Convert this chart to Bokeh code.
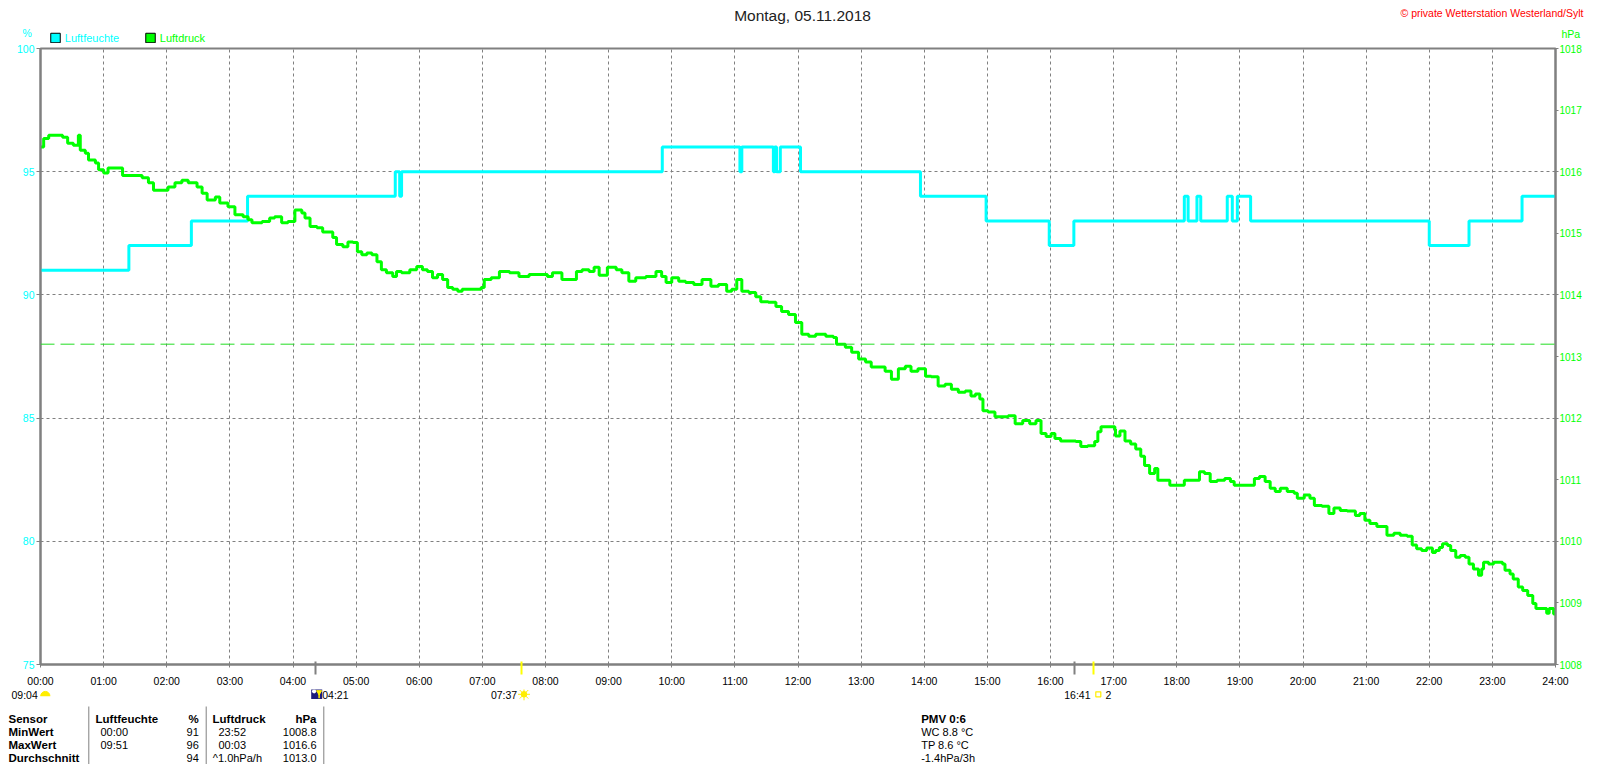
import math
from bokeh.plotting import figure
from bokeh.layouts import column
from bokeh.models import Range1d, LinearAxis, FixedTicker, Span
from bokeh.core.properties import value
from bokeh.embed import file_html
from bokeh.resources import INLINE

# ---------------- data ----------------
hour_ticks = list(range(25))
hour_labels = [f"{h:02d}:00" for h in hour_ticks]
hum_ticks = [75, 80, 85, 90, 95, 100]
hpa_ticks = list(range(1008, 1019))

# Luftfeuchte (%) step changes: time in hours, value from that time on
hum_t = [0.00, 1.40, 2.39, 3.28, 5.62, 5.69, 5.72, 9.85, 11.08, 11.11, 11.61, 11.63,
         11.66, 11.72, 12.04, 13.94, 14.98, 15.98, 16.37, 18.12, 18.18, 18.32, 18.38,
         18.80, 18.88, 18.96, 19.17, 22.00, 22.63, 23.47, 24.00]
hum_v = [91, 92, 93, 94, 95, 94, 95, 96, 95, 96, 95, 96,
         95, 96, 95, 94, 93, 92, 93, 94, 93, 94, 93,
         94, 93, 94, 93, 92, 93, 94, 94]

# Luftdruck (hPa)
hpa_t = [0.00, 0.05, 0.13, 0.24, 0.35, 0.43, 0.52, 0.60, 0.63, 0.71, 0.76, 0.87, 0.92, 1.00,
         1.07, 1.19, 1.30, 1.50, 1.61, 1.71, 1.79, 1.93, 2.02, 2.13, 2.24, 2.34, 2.48, 2.56,
         2.64, 2.77, 2.84, 2.97, 3.08, 3.21, 3.29, 3.35, 3.51, 3.63, 3.71, 3.82, 3.92, 4.03,
         4.14, 4.19, 4.27, 4.38, 4.47, 4.58, 4.63, 4.69, 4.79, 4.87, 4.95, 5.02, 5.09, 5.17,
         5.25, 5.33, 5.40, 5.48, 5.58, 5.64, 5.72, 5.85, 5.96, 6.05, 6.13, 6.21, 6.29, 6.37,
         6.45, 6.53, 6.61, 6.68, 6.84, 6.98, 7.03, 7.14, 7.27, 7.43, 7.58, 7.74, 7.90, 8.03,
         8.11, 8.26, 8.37, 8.49, 8.58, 8.69, 8.77, 8.85, 8.98, 9.12, 9.21, 9.32, 9.43, 9.59,
         9.75, 9.84, 9.91, 10.00, 10.11, 10.22, 10.35, 10.48, 10.62, 10.74, 10.87, 10.95,
         11.03, 11.11, 11.22, 11.33, 11.41, 11.53, 11.65, 11.74, 11.85, 11.96, 12.06, 12.17,
         12.28, 12.44, 12.56, 12.61, 12.75, 12.85, 12.96, 13.07, 13.16, 13.27, 13.38, 13.48,
         13.59, 13.70, 13.79, 13.90, 14.02, 14.11, 14.22, 14.33, 14.43, 14.54, 14.65, 14.74,
         14.81, 14.88, 14.93, 15.01, 15.12, 15.22, 15.33, 15.44, 15.56, 15.67, 15.77, 15.85,
         15.93, 16.01, 16.07, 16.16, 16.31, 16.40, 16.48, 16.59, 16.70, 16.75, 16.80, 16.91,
         17.02, 17.03, 17.10, 17.18, 17.27, 17.35, 17.43, 17.49, 17.57, 17.65, 17.70, 17.81,
         17.89, 18.06, 18.12, 18.28, 18.36, 18.44, 18.53, 18.64, 18.76, 18.85, 18.91, 19.12,
         19.23, 19.31, 19.40, 19.48, 19.56, 19.64, 19.75, 19.86, 19.91, 20.02, 20.11, 20.18,
         20.30, 20.41, 20.49, 20.59, 20.70, 20.83, 20.90, 20.98, 21.06, 21.17, 21.25, 21.33,
         21.44, 21.54, 21.65, 21.73, 21.80, 21.88, 21.96, 22.05, 22.10, 22.16, 22.21, 22.29,
         22.34, 22.42, 22.49, 22.57, 22.63, 22.70, 22.78, 22.83, 22.86, 22.94, 23.02, 23.09,
         23.16, 23.20, 23.28, 23.33, 23.41, 23.48, 23.56, 23.64, 23.69, 23.80, 23.86, 23.90,
         23.97, 24.00]
hpa_v = [1016.40, 1016.54, 1016.59, 1016.59, 1016.56, 1016.46, 1016.43, 1016.59, 1016.35, 1016.30,
         1016.19, 1016.14, 1016.03, 1015.98, 1016.06, 1016.06, 1015.94, 1015.94, 1015.90, 1015.82,
         1015.70, 1015.70, 1015.75, 1015.82, 1015.86, 1015.82, 1015.75, 1015.65, 1015.54, 1015.59,
         1015.49, 1015.43, 1015.30, 1015.27, 1015.22, 1015.17, 1015.19, 1015.25, 1015.27, 1015.17,
         1015.19, 1015.38, 1015.33, 1015.25, 1015.11, 1015.09, 1015.02, 1015.02, 1014.93, 1014.82,
         1014.78, 1014.86, 1014.85, 1014.70, 1014.65, 1014.68, 1014.65, 1014.54, 1014.41, 1014.36,
         1014.30, 1014.38, 1014.36, 1014.41, 1014.46, 1014.41, 1014.38, 1014.28, 1014.33, 1014.25,
         1014.12, 1014.09, 1014.06, 1014.09, 1014.09, 1014.12, 1014.25, 1014.28, 1014.38, 1014.36,
         1014.30, 1014.33, 1014.33, 1014.30, 1014.36, 1014.25, 1014.25, 1014.38, 1014.41, 1014.38,
         1014.45, 1014.32, 1014.45, 1014.41, 1014.36, 1014.22, 1014.28, 1014.30, 1014.38, 1014.30,
         1014.20, 1014.28, 1014.22, 1014.20, 1014.17, 1014.25, 1014.14, 1014.17, 1014.06, 1014.09,
         1014.25, 1014.06, 1014.04, 1013.97, 1013.89, 1013.88, 1013.81, 1013.73, 1013.68, 1013.55,
         1013.36, 1013.33, 1013.36, 1013.33, 1013.31, 1013.20, 1013.15, 1013.07, 1012.96, 1012.91,
         1012.83, 1012.83, 1012.76, 1012.63, 1012.80, 1012.84, 1012.76, 1012.80, 1012.68, 1012.67,
         1012.52, 1012.55, 1012.47, 1012.42, 1012.44, 1012.36, 1012.39, 1012.31, 1012.12, 1012.10,
         1012.02, 1012.02, 1012.04, 1011.91, 1011.96, 1011.91, 1011.96, 1011.75, 1011.70, 1011.75,
         1011.67, 1011.63, 1011.63, 1011.62, 1011.54, 1011.55, 1011.62, 1011.78, 1011.86, 1011.86,
         1011.82, 1011.71, 1011.79, 1011.63, 1011.58, 1011.50, 1011.38, 1011.23, 1011.10, 1011.18,
         1010.99, 1010.99, 1010.91, 1010.91, 1010.99, 1010.99, 1011.13, 1011.10, 1010.97, 1010.99,
         1011.02, 1010.97, 1010.91, 1010.91, 1011.02, 1011.05, 1010.97, 1010.86, 1010.81, 1010.86,
         1010.81, 1010.78, 1010.70, 1010.75, 1010.70, 1010.58, 1010.57, 1010.45, 1010.54, 1010.50,
         1010.49, 1010.42, 1010.45, 1010.34, 1010.29, 1010.24, 1010.24, 1010.10, 1010.13, 1010.10,
         1010.08, 1009.94, 1009.88, 1009.85, 1009.89, 1009.82, 1009.85, 1009.90, 1009.96, 1009.93,
         1009.85, 1009.74, 1009.77, 1009.74, 1009.63, 1009.55, 1009.45, 1009.55, 1009.66, 1009.63,
         1009.66, 1009.66, 1009.63, 1009.53, 1009.47, 1009.39, 1009.26, 1009.20, 1009.12, 1008.99,
         1008.91, 1008.91, 1008.83, 1008.91, 1008.82, 1008.85]

hum_ref_level = 88

# events on the time axis (hours): moon 04:21 / 16:23, sun 07:37 / 16:41
moon_event_times = [4.35, 16.383]
sun_event_times = [7.617, 16.683]

title_text = "Montag, 05.11.2018"
copyright_text = "\u00a9 private Wetterstation Westerland/Sylt"
legend_names = ["Luftfeuchte", "Luftdruck"]

table_rows = ["Sensor", "MinWert", "MaxWert", "Durchschnitt"]
hum_col_time = ["", "00:00", "09:51", ""]
hum_col_val = ["%", "91", "96", "94"]
hpa_col_time = ["", "23:52", "00:03", "^1.0hPa/h"]
hpa_col_val = ["hPa", "1008.8", "1016.6", "1013.0"]
pmv_lines = ["PMV 0:6", "WC 8.8 \u00b0C", "TP 8.6 \u00b0C", "-1.4hPa/3h"]

# ---------------- layout ----------------
W = 1584
HA, HB, HC = 43, 646, 75          # top strip, chart, bottom strip (sum 764)
FL, FR, FT, FB = 40, 27, 5, 22    # chart borders
FONT = "Liberation Sans"
CYAN = "#00ffff"
GREEN = "#00ff00"
GREY = "#808080"
YEL = "#ffee00"


def strip(height, y_top):
    f = figure(width=W, height=height, x_range=Range1d(0, W),
               y_range=Range1d(y_top + height, y_top),
               x_axis_type=None, y_axis_type=None, output_backend="svg",
               toolbar_location=None, min_border_left=0, min_border_right=0,
               min_border_top=0, min_border_bottom=0, frame_align=False)
    f.outline_line_color = None
    f.background_fill_color = "white"
    f.border_fill_color = "white"
    return f


def txt(f, xs, ys, texts, size="11px", color="black", align="left", bold=False, font=FONT):
    f.text(x=xs, y=ys, text=texts, text_font=value(font), text_font_size=value(size),
           text_color=color, text_align=align, text_baseline="middle",
           text_font_style="bold" if bold else "normal")


# ===== top strip =====
fa = strip(HA, 0)
txt(fa, [802], [15], [title_text], size="15.5px", color="#222222", align="center")
txt(fa, [1583], [12.7], [copyright_text], size="10.5px", color="#ff0000", align="right")
txt(fa, [26.7], [32.3], ["%"], size="10.5px", color=CYAN, align="center")
txt(fa, [1561], [33], ["hPa"], size="10.5px", color=GREEN)
fa.rect(x=[55, 150], y=[37.5, 37.5], width=9.5, height=9.5, fill_color=[CYAN, GREEN],
        line_color="black", line_width=1)
txt(fa, [64.3], [37.7], [legend_names[0]], color=CYAN)
txt(fa, [159.3], [37.7], [legend_names[1]], color=GREEN)

# ===== chart =====
p = figure(width=W, height=HB, x_range=Range1d(0, 24), y_range=Range1d(75, 100),
           output_backend="svg", toolbar_location=None, frame_align=False,
           min_border_left=FL, min_border_right=FR, min_border_top=FT, min_border_bottom=FB)
p.extra_y_ranges = {"hpa": Range1d(1008, 1018)}
p.background_fill_color = "white"
p.border_fill_color = "white"
p.outline_line_color = GREY
p.outline_line_width = 2

# axis next to the frame: moon event ticks (major) and hour ticks (minor), no labels
xa = p.xaxis[0]
xa.ticker = FixedTicker(ticks=moon_event_times, minor_ticks=hour_ticks)
xa.axis_line_color = GREY
xa.axis_line_width = 2
xa.major_tick_line_color = GREY
xa.major_tick_line_width = 2
xa.major_tick_out = 10
xa.major_tick_in = 3
xa.minor_tick_line_color = GREY
xa.minor_tick_out = 3
xa.minor_tick_in = 0
xa.major_label_text_font_size = "0px"
xa.major_label_standoff = 0
xa.major_label_overrides = {t: "" for t in moon_event_times}

# hour labels; sun event ticks drawn upward across the time axis
xb = LinearAxis(ticker=FixedTicker(ticks=hour_ticks, minor_ticks=sun_event_times))
xb.major_label_overrides = {h: lab for h, lab in zip(hour_ticks, hour_labels)}
xb.axis_line_color = None
xb.major_tick_line_color = None
xb.minor_tick_line_color = "#ffff00"
xb.minor_tick_line_width = 2
xb.major_tick_out = 0
xb.major_tick_in = 0
xb.minor_tick_out = 0
xb.minor_tick_in = 13
xb.major_label_standoff = 0
xb.major_label_text_font = FONT
xb.major_label_text_font_size = "10.5px"
xb.major_label_text_color = "black"
p.add_layout(xb, "below")

ya = p.yaxis[0]
ya.ticker = FixedTicker(ticks=hum_ticks)
ya.axis_line_color = GREY
ya.axis_line_width = 2
ya.major_tick_line_color = GREY
ya.major_tick_out = 4
ya.major_tick_in = 0
ya.minor_tick_line_color = None
ya.major_label_standoff = 2
ya.major_label_text_font = FONT
ya.major_label_text_font_size = "10.5px"
ya.major_label_text_color = CYAN

ra = LinearAxis(y_range_name="hpa", ticker=FixedTicker(ticks=hpa_ticks))
ra.axis_line_color = GREY
ra.axis_line_width = 2
ra.major_tick_line_color = GREY
ra.major_tick_out = 3
ra.major_tick_in = 0
ra.minor_tick_line_color = None
ra.major_label_standoff = 1
ra.major_label_text_font = FONT
ra.major_label_text_font_size = "10px"
ra.major_label_text_color = GREEN
p.add_layout(ra, "right")

p.xgrid[0].ticker = FixedTicker(ticks=hour_ticks)
p.ygrid[0].ticker = FixedTicker(ticks=hum_ticks)
for g in (p.xgrid[0], p.ygrid[0]):
    g.grid_line_color = GREY
    g.grid_line_dash = "3 3"
    g.grid_line_width = 1
    g.grid_line_alpha = 1

p.add_layout(Span(location=hum_ref_level, dimension="width", line_color="#22dd22",
                  line_dash="14 6", line_width=1))

p.step(hum_t, hum_v, mode="after", line_color=CYAN, line_width=3)
p.step(hpa_t, hpa_v, mode="after", line_color=GREEN, line_width=3, y_range_name="hpa")

# ===== bottom strip =====
y0c = HA + HB
fc = strip(HC, y0c)
MY = 694.3
# 09:04 half sun
txt(fc, [37.3], [MY], ["09:04"], size="10.5px", align="right")
fc.circle(x=[44.8], y=[695.5], radius=4.6, fill_color=YEL, line_color=YEL)
fc.rect(x=[44.8], y=[699.0], width=12, height=6.5, fill_color="white", line_color=None)
# 04:21 moon icon
fc.rect(x=[316.2], y=[693.5], width=11, height=10, fill_color="#1c1c7c", line_color=None)
fc.circle(x=[313.6], y=[690.8], radius=2.1, fill_color="white", line_color=None)
fc.segment(x0=[318.6], y0=[697.8], x1=[318.6], y1=[692.0], line_color=YEL, line_width=1.5)
fc.scatter(x=[318.6], y=[691.6], marker="triangle", size=5, fill_color=YEL, line_color=YEL,
           angle=math.pi)
txt(fc, [321.7], [MY], ["04:21"], size="10.5px")
# 07:37 sun
txt(fc, [516.7], [MY], ["07:37"], size="10.5px", align="right")
fc.scatter(x=[523.5], y=[693.8], marker="asterisk", size=12, line_color=YEL, line_width=1)
fc.circle(x=[523.5], y=[693.8], radius=2.8, fill_color=YEL, line_color=YEL)
# 16:41
txt(fc, [1090], [MY], ["16:41"], size="10.5px", align="right")
fc.rect(x=[1097.8], y=[693.8], width=5, height=5, fill_color=None, line_color=YEL,
        line_width=1.2)
txt(fc, [1105], [MY], ["2"], size="10.5px")

# table
row_y = [718, 731, 744, 757]
txt(fc, [8] * 4, row_y, table_rows, size="11.5px", bold=True)
txt(fc, [95, 212], [row_y[0]] * 2, ["Luftfeuchte", "Luftdruck"], size="11.5px", bold=True)
txt(fc, [198.3, 316], [row_y[0]] * 2, [hum_col_val[0], hpa_col_val[0]], size="11.5px",
    align="right", bold=True)
txt(fc, [198.3] * 3, row_y[1:], hum_col_val[1:], align="right")
txt(fc, [316] * 3, row_y[1:], hpa_col_val[1:], align="right")
txt(fc, [100] * 2, row_y[1:3], hum_col_time[1:3])
txt(fc, [218, 218, 212.3], row_y[1:], hpa_col_time[1:])
sep_x = [88.3, 205.7, 323.3]
fc.segment(x0=sep_x, y0=[706] * 3, x1=sep_x, y1=[y0c + HC] * 3, line_color=GREY,
           line_width=1)

# PMV block
txt(fc, [920.7], [row_y[0]], [pmv_lines[0]], size="11.5px", bold=True)
txt(fc, [920.7] * 3, row_y[1:], pmv_lines[1:])

layout = column(fa, p, fc, spacing=0)
open("out.html", "w").write(file_html(layout, INLINE))
